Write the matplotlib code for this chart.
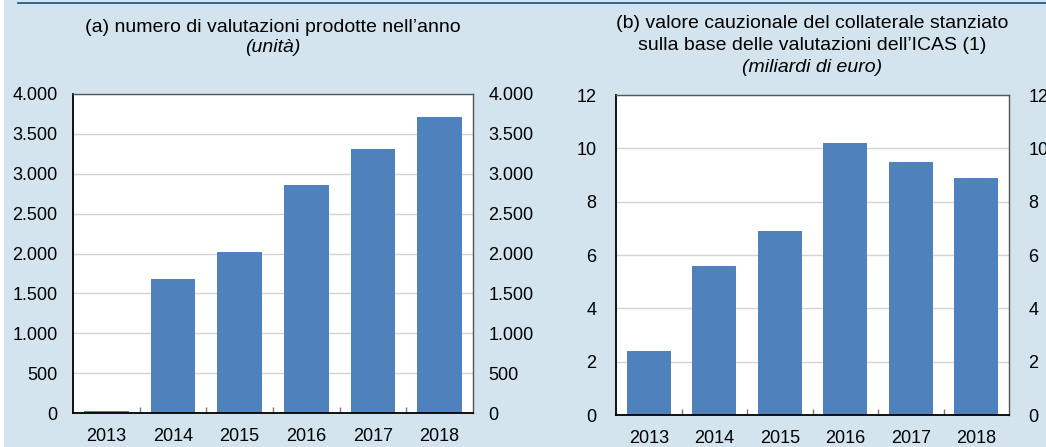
import numpy as np
import matplotlib.pyplot as plt
from matplotlib.ticker import FuncFormatter, FixedLocator
from matplotlib.patches import Rectangle
from matplotlib.lines import Line2D

plt.rcParams['font.family'] = ['Liberation Sans', 'DejaVu Sans']

years = ['2013', '2014', '2015', '2016', '2017', '2018']
valutazioni = [25, 1675, 2025, 2855, 3305, 3710]
collaterale = [2.4, 5.6, 6.9, 10.2, 9.5, 8.9]

bar_color = '#4f81bd'
bg_color = '#d3e4ee'

W, H = 1046, 447
fig = plt.figure(figsize=(W / 100, H / 100), dpi=100)
fig.patch.set_facecolor('white')
fig.patches.append(Rectangle((4 / W, 0), 1 - 4 / W, 1, transform=fig.transFigure,
                             facecolor=bg_color, edgecolor='none', zorder=-10))
fig.lines.append(Line2D([18 / W, 1], [1 - 3 / H, 1 - 3 / H], transform=fig.transFigure,
                        color='#1f5f8b', lw=1.3))


def thousands(v, pos):
    return f'{int(v):,}'.replace(',', '.')


def setup(ax, values, ymax, step, fmt, pad):
    x = np.arange(len(values))
    ax.set_facecolor('white')
    ax.bar(x, values, width=0.67, color=bar_color, zorder=3)
    ax.set_xlim(-0.5, len(values) - 0.5)
    ax.set_ylim(0, ymax)
    ax.set_yticks(np.arange(0, ymax + step / 2, step))
    ax.yaxis.set_major_formatter(FuncFormatter(fmt))
    ax.grid(axis='y', color='#d4d4d4', lw=1, zorder=0)
    ax.set_xticks(x)
    ax.set_xticklabels(years)
    ax.xaxis.set_minor_locator(FixedLocator(np.arange(0.5, len(values) - 1, 1)))
    ax.tick_params(axis='x', which='major', length=0, pad=11, labelsize=13)
    ax.tick_params(axis='x', which='minor', direction='in', length=4, color='#777777', width=1)
    ax.tick_params(axis='y', length=0, labelsize=13, labelright=True, pad=pad)
    for s in ['left', 'bottom']:
        ax.spines[s].set_color('black')
        ax.spines[s].set_linewidth(1.3)
    for s in ['top', 'right']:
        ax.spines[s].set_color('#555555')
        ax.spines[s].set_linewidth(1.0)
    for s in ax.spines.values():
        s.set_zorder(4)


# panel (a)
ax1 = fig.add_axes([73 / W, 34 / H, 400 / W, 319 / H])
setup(ax1, valutazioni, 4000, 500, thousands, 11)

# panel (b)
ax2 = fig.add_axes([616 / W, 32 / H, 393 / W, 320 / H])
setup(ax2, collaterale, 12, 2, lambda v, p: f'{int(v)}', 14)

fig.text(273 / W, 1 - 27 / H, '(a) numero di valutazioni prodotte nell\u2019anno',
         ha='center', va='center', fontsize=14)
fig.text(273 / W, 1 - 47 / H, '(unità)', ha='center', va='center', fontsize=14, style='italic')

fig.text(812 / W, 1 - 24 / H, '(b) valore cauzionale del collaterale stanziato',
         ha='center', va='center', fontsize=14)
fig.text(812 / W, 1 - 45 / H, 'sulla base delle valutazioni dell\u2019ICAS (1)',
         ha='center', va='center', fontsize=14)
fig.text(812 / W, 1 - 67 / H, '(miliardi di euro)', ha='center', va='center',
         fontsize=14, style='italic')

fig.savefig('out.png', dpi=100, facecolor=fig.get_facecolor())
